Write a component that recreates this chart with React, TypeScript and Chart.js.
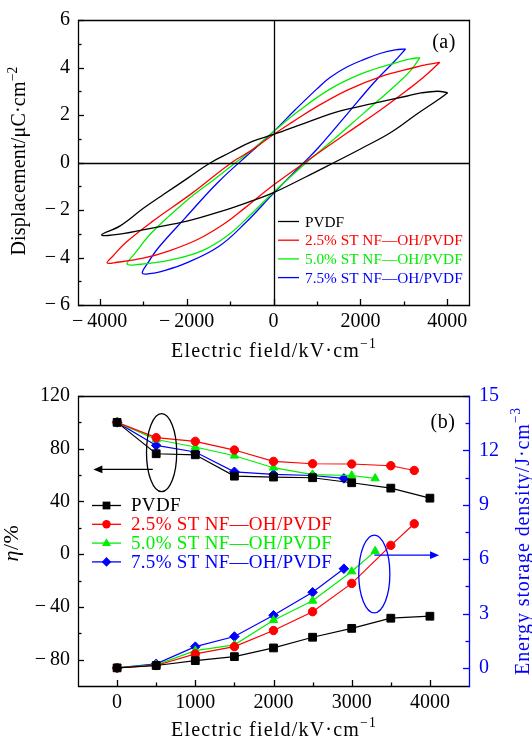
import { useEffect, useRef } from 'react';
import { Chart, registerables } from 'chart.js';

Chart.register(...registerables);

const FONT = '"Liberation Serif", "Times New Roman", serif';
const W = 532;
const H = 370;

const seriesNames = ['PVDF', '2.5% ST NF\u2014OH/PVDF', '5.0% ST NF\u2014OH/PVDF', '7.5% ST NF\u2014OH/PVDF'];
const seriesColors = ['#000000', '#ff0000', '#00ee00', '#0000ff'];
const markerStyles = ['rect', 'circle', 'triangle', 'rectRot'];
const markerRadii = [5.5, 4.2, 4.8, 4.8];

// (a) D–E hysteresis loops: [field kV/cm, displacement µC/cm²]
const loopPVDF: [number, number][] = [
  [4010, 2.94], [3780, 3.0], [3400, 2.93], [3080, 2.8], [2300, 2.49], [1520, 2.16], [740, 1.67],
  [0, 1.18], [-500, 0.88], [-1000, 0.42], [-1460, -0.02], [-1990, -0.68], [-2535, -1.35], [-2995, -1.93],
  [-3540, -2.68], [-3955, -3.05], [-3540, -3.02], [-2765, -2.75], [-1990, -2.47], [-1210, -2.06],
  [-430, -1.57], [0, -1.27], [740, -0.61], [1365, -0.03], [1990, 0.56], [2690, 1.25], [3310, 2.05],
  [3780, 2.63], [4010, 2.94],
];
const loop25: [number, number][] = [
  [3830, 4.22], [3550, 4.13], [3240, 4.0], [2470, 3.62], [1700, 3.05], [950, 2.3], [450, 1.72],
  [0, 1.18], [-500, 0.52], [-960, 0], [-1880, -1.3], [-2800, -2.5], [-3400, -3.37], [-3700, -3.95],
  [-3830, -4.23], [-3600, -4.2], [-3000, -4.03], [-2400, -3.72], [-1700, -3.2], [-1100, -2.54],
  [-650, -1.9], [0, -0.95], [720, 0], [1700, 1.25], [2470, 2.22], [3080, 3.05], [3460, 3.6], [3830, 4.22],
];
const loop50: [number, number][] = [
  [3370, 4.42], [3150, 4.36], [2850, 4.22], [2090, 3.78], [1330, 3.12], [600, 2.2], [0, 1.3],
  [-500, 0.52], [-870, 0], [-1300, -0.62], [-2030, -1.65], [-2800, -2.95], [-3200, -3.85], [-3370, -4.27],
  [-3150, -4.3], [-2410, -4.12], [-1650, -3.72], [-1040, -3.05], [-500, -2.15], [0, -1.25], [760, 0],
  [1330, 0.88], [2090, 2.1], [2850, 3.32], [3160, 3.88], [3370, 4.42],
];
const loop75: [number, number][] = [
  [3040, 4.78], [2800, 4.74], [2470, 4.6], [2100, 4.35], [1700, 4.03], [1300, 3.58], [1000, 3.1],
  [500, 2.22], [0, 1.3], [-500, 0.47], [-1270, -0.82], [-2030, -2.33], [-2640, -3.57], [-2900, -4.25],
  [-3020, -4.66], [-2850, -4.68], [-2570, -4.58], [-2030, -4.25], [-1270, -3.55], [-650, -2.55],
  [0, -1.3], [700, 0], [1020, 0.6], [1700, 2.05], [2320, 3.38], [2780, 4.25], [3040, 4.78],
];
const loops = [loopPVDF, loop25, loop50, loop75];

const fieldTicksA = [-4000, -2000, 0, 2000, 4000];
const fieldMinorA = [-3000, -1000, 1000, 3000];
const dispTicks = [-6, -4, -2, 0, 2, 4, 6];
const dispMinor = [-5, -3, -1, 1, 3, 5];

// (b) efficiency and energy storage density versus field
const fieldPVDF = [0, 500, 1000, 1500, 2000, 2500, 3000, 3500, 4000];
const etaPVDF = [100, 76.2, 75.4, 59.2, 58.5, 58, 54.2, 50.1, 42.5];
const energyPVDF = [0, 0.13, 0.4, 0.62, 1.1, 1.69, 2.18, 2.74, 2.85];
const field25 = [0, 500, 1000, 1500, 2000, 2500, 3000, 3500, 3800];
const eta25 = [100, 88.4, 85.6, 79, 70.4, 68.6, 68.4, 67.1, 63.5];
const energy25 = [0, 0.13, 0.77, 1.17, 2.06, 3.1, 4.66, 6.76, 7.95];
const field50 = [0, 500, 1000, 1500, 2000, 2500, 3000, 3300];
const eta50 = [100, 87, 81.3, 74.7, 65.6, 60.3, 59.7, 57.5];
const energy50 = [0, 0.17, 0.95, 1.27, 2.63, 3.7, 5.32, 6.44];
const field75 = [0, 500, 1000, 1500, 2000, 2500, 2900];
const eta75 = [100, 82.5, 77.5, 62.5, 60.5, 59.7, 57.5];
const energy75 = [0, 0.22, 1.17, 1.73, 2.9, 4.17, 5.47];

const fieldsB = [fieldPVDF, field25, field50, field75];
const etasB = [etaPVDF, eta25, eta50, eta75];
const energiesB = [energyPVDF, energy25, energy50, energy75];

const fieldTicksB = [0, 1000, 2000, 3000, 4000];
const fieldMinorB = [500, 1500, 2500, 3500];
const etaTicks = [-80, -40, 0, 40, 80, 120];
const etaMinor = [-60, -20, 20, 60, 100];
const energyTicks = [0, 3, 6, 9, 12, 15];
const energyMinor = [1.5, 4.5, 7.5, 10.5, 13.5];

type Run = { text: string; sup?: boolean; italic?: boolean };

function runFont(size: number, r: Run) {
  const s = r.sup ? size * 0.68 : size;
  return `${r.italic ? 'italic ' : ''}${s}px ${FONT}`;
}

function drawRuns(ctx: any, runs: Run[], cx: number, cy: number, size: number, color: string, angle: number, spacing: number) {
  ctx.save();
  ctx.translate(cx, cy);
  ctx.rotate(angle);
  ctx.fillStyle = color;
  ctx.textAlign = 'left';
  ctx.textBaseline = 'alphabetic';
  ctx.letterSpacing = `${spacing}px`;
  const widths = runs.map((r) => {
    ctx.font = runFont(size, r);
    return ctx.measureText(r.text).width;
  });
  const total = widths.reduce((a, b) => a + b, 0);
  let x = -total / 2;
  const base = size * 0.34;
  runs.forEach((r, i) => {
    ctx.font = runFont(size, r);
    ctx.fillText(r.text, x, r.sup ? base - size * 0.42 : base);
    x += widths[i];
  });
  ctx.restore();
}

const fmt = (v: number) => (v < 0 ? '\u2212\u2009' + Math.abs(v) : String(v));

type AxisDeco = { id: string; side: 'bottom' | 'left' | 'right'; major: number[]; minor: number[]; color: string };
type TitleDeco = { runs: Run[]; x: number; y: number; size: number; color: string; angle: number; spacing: number };
type LegendDeco = { x: number; y: number; dy: number; lineLen: number; gap: number; size: number; spacing: number; markers: boolean };
type EllipseDeco = { x: number; y: number; rx: number; ry: number; axis: string; color: string };
type ArrowDeco = { x0: number; x1: number; y: number; axis: string; color: string };

function drawMarker(ctx: CanvasRenderingContext2D, style: string, r: number, x: number, y: number) {
  ctx.beginPath();
  if (style === 'rect') {
    const s = r * Math.SQRT1_2;
    ctx.rect(x - s, y - s, 2 * s, 2 * s);
  } else if (style === 'circle') {
    ctx.arc(x, y, r, 0, Math.PI * 2);
  } else if (style === 'triangle') {
    const half = r * 0.95;
    ctx.moveTo(x, y - r);
    ctx.lineTo(x + half, y + r * 0.6);
    ctx.lineTo(x - half, y + r * 0.6);
    ctx.closePath();
  } else {
    ctx.moveTo(x, y - r);
    ctx.lineTo(x + r, y);
    ctx.lineTo(x, y + r);
    ctx.lineTo(x - r, y);
    ctx.closePath();
  }
  ctx.fill();
}

const decoPlugin = {
  id: 'deco',
  afterDatasetsDraw(chart: any, _args: any, opts: any) {
    const { ctx, chartArea: a } = chart;
    const xs = chart.scales.x;
    ctx.save();
    ctx.lineWidth = 1.3;

    if (opts.zeroLines) {
      const px = Math.round(xs.getPixelForValue(0)) + 0.5;
      const py = Math.round(chart.scales.y.getPixelForValue(0)) + 0.5;
      ctx.strokeStyle = '#000';
      ctx.beginPath();
      ctx.moveTo(px, a.top);
      ctx.lineTo(px, a.bottom);
      ctx.moveTo(a.left, py);
      ctx.lineTo(a.right, py);
      ctx.stroke();
    }

    (opts.ellipses || []).forEach((e: EllipseDeco) => {
      const ys = chart.scales[e.axis];
      const cx = xs.getPixelForValue(e.x);
      const cy = ys.getPixelForValue(e.y);
      const rx = Math.abs(xs.getPixelForValue(e.x + e.rx) - cx);
      const ry = Math.abs(ys.getPixelForValue(e.y + e.ry) - cy);
      ctx.strokeStyle = e.color;
      ctx.beginPath();
      ctx.ellipse(cx, cy, rx, ry, 0, 0, Math.PI * 2);
      ctx.stroke();
    });

    (opts.arrows || []).forEach((ar: ArrowDeco) => {
      const ys = chart.scales[ar.axis];
      const x0 = xs.getPixelForValue(ar.x0);
      const x1 = xs.getPixelForValue(ar.x1);
      const y = ys.getPixelForValue(ar.y);
      const dir = Math.sign(x1 - x0);
      ctx.strokeStyle = ar.color;
      ctx.fillStyle = ar.color;
      ctx.beginPath();
      ctx.moveTo(x0, y);
      ctx.lineTo(x1 - dir * 6, y);
      ctx.stroke();
      ctx.beginPath();
      ctx.moveTo(x1, y);
      ctx.lineTo(x1 - dir * 9, y - 3.8);
      ctx.lineTo(x1 - dir * 9, y + 3.8);
      ctx.closePath();
      ctx.fill();
    });

    (opts.axes || []).forEach((ax: AxisDeco) => {
      const sc = chart.scales[ax.id];
      ctx.strokeStyle = ax.color;
      const tick = (v: number, len: number) => {
        const p = Math.round(sc.getPixelForValue(v)) + 0.5;
        ctx.beginPath();
        if (ax.side === 'bottom') {
          ctx.moveTo(p, a.bottom);
          ctx.lineTo(p, a.bottom - len);
        } else if (ax.side === 'left') {
          ctx.moveTo(a.left, p);
          ctx.lineTo(a.left + len, p);
        } else {
          ctx.moveTo(a.right, p);
          ctx.lineTo(a.right - len, p);
        }
        ctx.stroke();
      };
      ax.major.forEach((v) => tick(v, 6));
      ax.minor.forEach((v) => tick(v, 3.5));
    });

    const l = Math.round(a.left) + 0.5;
    const r = Math.round(a.right) + 0.5;
    const t = Math.round(a.top) + 0.5;
    const b = Math.round(a.bottom) + 0.5;
    ctx.strokeStyle = '#000';
    ctx.beginPath();
    ctx.moveTo(r, t);
    ctx.lineTo(l, t);
    ctx.lineTo(l, b);
    ctx.lineTo(r, b);
    ctx.stroke();
    ctx.strokeStyle = opts.rightColor || '#000';
    ctx.beginPath();
    ctx.moveTo(r, t - 0.65);
    ctx.lineTo(r, b + 0.65);
    ctx.stroke();
    ctx.restore();
  },
  afterDraw(chart: any, _args: any, opts: any) {
    const { ctx, chartArea: a } = chart;
    (opts.titles || []).forEach((t: TitleDeco) => drawRuns(ctx, t.runs, t.x, t.y, t.size, t.color, t.angle, t.spacing));

    const lg: LegendDeco | undefined = opts.legend;
    if (lg) {
      ctx.save();
      seriesNames.forEach((name, i) => {
        const y = a.top + lg.y + i * lg.dy;
        const x = a.left + lg.x;
        const color = seriesColors[i];
        ctx.strokeStyle = color;
        ctx.fillStyle = color;
        ctx.lineWidth = 1.3;
        ctx.beginPath();
        ctx.moveTo(x, y);
        ctx.lineTo(x + lg.lineLen, y);
        ctx.stroke();
        if (lg.markers) drawMarker(ctx, markerStyles[i], markerRadii[i], x + lg.lineLen / 2, y);
        ctx.font = `${lg.size}px ${FONT}`;
        (ctx as any).letterSpacing = `${lg.spacing}px`;
        ctx.textAlign = 'left';
        ctx.textBaseline = 'middle';
        ctx.fillText(name, x + lg.lineLen + lg.gap, y + 1);
      });
      ctx.restore();
    }
  },
};

const tickFont = { family: FONT, size: 20 };

function setTicks(values: number[]) {
  return (scale: any) => {
    scale.ticks = values.map((v) => ({ value: v }));
  };
}

const fieldTitle: Run[] = [{ text: 'Electric field/kV\u00b7cm' }, { text: '\u22121', sup: true }];

function makeChartA(canvas: HTMLCanvasElement) {
  return new Chart(canvas, {
    type: 'scatter',
    data: {
      datasets: loops.map((loop, i) => ({
        label: seriesNames[i],
        data: loop.map(([x, y]) => ({ x, y })),
        showLine: true,
        borderColor: seriesColors[i],
        backgroundColor: seriesColors[i],
        borderWidth: 1.3,
        pointRadius: 0,
        tension: 0.4,
        fill: false,
      })),
    },
    options: {
      animation: false,
      responsive: false,
      events: [],
      layout: { padding: { top: 15, right: 63, left: 0, bottom: 0 } },
      plugins: {
        legend: { display: false },
        tooltip: { enabled: false },
        deco: {
          zeroLines: true,
          axes: [
            { id: 'x', side: 'bottom', major: fieldTicksA, minor: fieldMinorA, color: '#000' },
            { id: 'y', side: 'left', major: dispTicks, minor: dispMinor, color: '#000' },
          ],
          titles: [
            { runs: fieldTitle, x: 274, y: 350, size: 20, color: '#000', angle: 0, spacing: 1.2 },
            { runs: [{ text: 'Displacement/\u03bcC\u00b7cm' }, { text: '\u22122', sup: true }], x: 18.5, y: 161, size: 20, color: '#000', angle: -Math.PI / 2, spacing: 0.2 },
            { runs: [{ text: '(a)' }], x: 444, y: 41.5, size: 20, color: '#000', angle: 0, spacing: 0.5 },
          ],
          legend: { x: 200, y: 201.5, dy: 18.7, lineLen: 21, gap: 6, size: 15.3, spacing: 0, markers: false },
        },
      } as any,
      scales: {
        x: {
          type: 'linear',
          min: -4500,
          max: 4500,
          grid: { display: false, drawTicks: false },
          border: { display: false },
          ticks: { font: tickFont, color: '#000', padding: 5, autoSkip: false, maxRotation: 0, callback: (v: any) => fmt(Number(v)) },
          afterBuildTicks: setTicks(fieldTicksA),
          afterFit: (s: any) => {
            s.height = 65;
          },
        },
        y: {
          type: 'linear',
          min: -6,
          max: 6,
          grid: { display: false, drawTicks: false },
          border: { display: false },
          ticks: { font: tickFont, color: '#000', padding: 8, autoSkip: false, callback: (v: any) => fmt(Number(v)) },
          afterBuildTicks: setTicks(dispTicks),
          afterFit: (s: any) => {
            s.width = 78;
          },
        },
      },
    },
    plugins: [decoPlugin as any],
  });
}

function makeChartB(canvas: HTMLCanvasElement) {
  const pointSets = (values: number[][], axis: string) =>
    values.map((vals, i) => ({
      label: seriesNames[i],
      data: fieldsB[i].map((x, j) => ({ x, y: vals[j] })),
      yAxisID: axis,
      borderColor: seriesColors[i],
      backgroundColor: seriesColors[i],
      pointBorderColor: seriesColors[i],
      pointBackgroundColor: seriesColors[i],
      pointStyle: markerStyles[i] as any,
      pointRadius: markerRadii[i],
      pointBorderWidth: 1,
      borderWidth: 1.2,
      tension: 0,
      fill: false,
    }));
  return new Chart(canvas, {
    type: 'line',
    data: { datasets: [...pointSets(etasB, 'y'), ...pointSets(energiesB, 'y1')] },
    options: {
      animation: false,
      responsive: false,
      events: [],
      layout: { padding: { top: 26, right: 0, left: 0, bottom: 0 } },
      plugins: {
        legend: { display: false },
        tooltip: { enabled: false },
        deco: {
          rightColor: '#0000ff',
          axes: [
            { id: 'x', side: 'bottom', major: fieldTicksB, minor: fieldMinorB, color: '#000' },
            { id: 'y', side: 'left', major: etaTicks, minor: etaMinor, color: '#000' },
            { id: 'y1', side: 'right', major: energyTicks, minor: energyMinor, color: '#0000ff' },
          ],
          ellipses: [
            { x: 569, y: 77, rx: 193, ry: 29.6, axis: 'y', color: '#000' },
            { x: 3289, y: 5.18, rx: 199, ry: 2.14, axis: 'y1', color: '#0000ff' },
          ],
          arrows: [
            { x0: 456, x1: -303, y: 64.3, axis: 'y', color: '#000' },
            { x0: 3289, x1: 4117, y: 6.22, axis: 'y1', color: '#0000ff' },
          ],
          titles: [
            { runs: fieldTitle, x: 274, y: 359, size: 20, color: '#000', angle: 0, spacing: 1.2 },
            { runs: [{ text: '\u03b7', italic: true }, { text: '/%' }], x: 10.5, y: 173, size: 22, color: '#000', angle: -Math.PI / 2, spacing: 0.5 },
            { runs: [{ text: 'Energy storage density/J\u00b7cm' }, { text: '\u22123', sup: true }], x: 522, y: 171, size: 20, color: '#0000ff', angle: -Math.PI / 2, spacing: 0.9 },
            { runs: [{ text: '(b)' }], x: 443, y: 51.5, size: 20, color: '#000', angle: 0, spacing: 0.5 },
          ],
          legend: { x: 14, y: 109.5, dy: 18.8, lineLen: 29, gap: 10, size: 19, spacing: 0.3, markers: true },
        },
      } as any,
      scales: {
        x: {
          type: 'linear',
          min: -500,
          max: 4500,
          grid: { display: false, drawTicks: false },
          border: { display: false },
          ticks: { font: tickFont, color: '#000', padding: 5, autoSkip: false, maxRotation: 0, callback: (v: any) => fmt(Number(v)) },
          afterBuildTicks: setTicks(fieldTicksB),
          afterFit: (s: any) => {
            s.height = 54;
          },
        },
        y: {
          type: 'linear',
          position: 'left',
          min: -100,
          max: 120,
          grid: { display: false, drawTicks: false },
          border: { display: false },
          ticks: { font: tickFont, color: '#000', padding: 8, autoSkip: false, callback: (v: any) => fmt(Number(v)) },
          afterBuildTicks: setTicks(etaTicks),
          afterFit: (s: any) => {
            s.width = 78;
          },
        },
        y1: {
          type: 'linear',
          position: 'right',
          min: -1,
          max: 15,
          grid: { display: false, drawTicks: false },
          border: { display: false },
          ticks: { font: tickFont, color: '#0000ff', padding: 10, autoSkip: false, callback: (v: any) => fmt(Number(v)) },
          afterBuildTicks: setTicks(energyTicks),
          afterFit: (s: any) => {
            s.width = 63;
          },
        },
      },
    },
    plugins: [decoPlugin as any],
  });
}

export default function App() {
  const refA = useRef<HTMLCanvasElement>(null);
  const refB = useRef<HTMLCanvasElement>(null);

  useEffect(() => {
    const a = makeChartA(refA.current!);
    const b = makeChartB(refB.current!);
    return () => {
      a.destroy();
      b.destroy();
    };
  }, []);

  return (
    <div style={{ position: 'absolute', left: 0, top: 0, width: W, height: 2 * H, background: '#fff' }}>
      <canvas ref={refA} width={W} height={H} style={{ display: 'block', width: W, height: H }} />
      <canvas ref={refB} width={W} height={H} style={{ display: 'block', width: W, height: H }} />
    </div>
  );
}
